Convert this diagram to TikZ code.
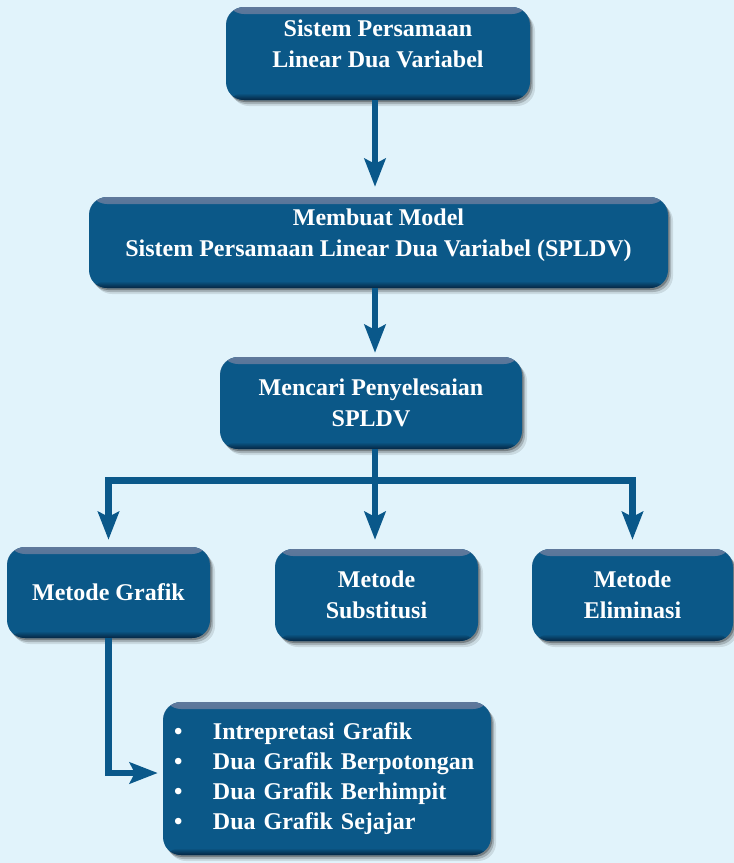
\documentclass[tikz,border=0pt]{standalone}
\usepackage{fontspec}
\setmainfont{Liberation Serif}
\usetikzlibrary{arrows.meta,shadows}
\definecolor{bg}{RGB}{225,243,251}
\definecolor{boxblue}{RGB}{11,88,136}
\definecolor{lineblue}{RGB}{10,88,138}
\definecolor{boxtop}{RGB}{95,120,155}
\definecolor{boxbot}{RGB}{5,38,66}
\tikzset{
  flowbox/.style={rounded corners=18pt, fill=boxblue, text=white,
    font=\bfseries\fontsize{24}{31}\selectfont, align=center, inner sep=0pt,
    general shadow={fill=black, opacity=0.10, shadow xshift=5pt, shadow yshift=-6pt},
    general shadow={fill=black, opacity=0.18, shadow xshift=3pt, shadow yshift=-4pt},
    general shadow={fill=black, opacity=0.28, shadow xshift=1.5pt, shadow yshift=-2pt},
    path picture={
      \shade[top color=boxtop, bottom color=boxblue]
        (path picture bounding box.north west) rectangle ([yshift=-7pt]path picture bounding box.north east);
      \shade[top color=boxblue, bottom color=boxbot]
        ([yshift=7pt]path picture bounding box.south west) rectangle (path picture bounding box.south east);
    }},
  conn/.style={draw=lineblue, line width=6.5pt},
  arr/.style={conn, -{Stealth[length=28pt, width=21pt, inset=5pt]}},
}
\begin{document}
\begin{tikzpicture}[x=1pt, y=-1pt]
  \fill[bg] (0,0) rectangle (734,863);
  \useasboundingbox (0,0) rectangle (734,863);

  \node[flowbox, minimum width=304pt, minimum height=93pt] (b1) at (378,53.5)
    {Sistem Persamaan\\Linear Dua Variabel\rule[-20pt]{0pt}{20pt}};
  \node[flowbox, minimum width=579pt, minimum height=91pt] (b2) at (378.5,242.5)
    {Membuat Model\\Sistem Persamaan Linear Dua Variabel (SPLDV)\rule[-20pt]{0pt}{20pt}};
  \node[flowbox, minimum width=302pt, minimum height=92pt] (b3) at (371,403)
    {Mencari Penyelesaian\\SPLDV};
  \node[flowbox, minimum width=203pt, minimum height=91pt] (grafik) at (108.5,592.5)
    {Metode Grafik};
  \node[flowbox, minimum width=203pt, minimum height=92pt] (sub) at (376.5,595)
    {Metode\\Substitusi};
  \node[flowbox, minimum width=201pt, minimum height=92pt] (elim) at (632.5,595)
    {Metode\\Eliminasi};
  \node[flowbox, minimum width=328pt, minimum height=153pt, text width=306pt, align=left,
        font=\bfseries\fontsize{24}{30}\selectfont] (bullets) at (327,778.5)
    {\makebox[39pt][l]{\textbullet}Intrepretasi Grafik\\
     \makebox[39pt][l]{\textbullet}Dua Grafik Berpotongan\\
     \makebox[39pt][l]{\textbullet}Dua Grafik Berhimpit\\
     \makebox[39pt][l]{\textbullet}Dua Grafik Sejajar};

  \coordinate (spine) at (375,0);
  \coordinate (bar) at (375,480.5);

  \draw[arr, shorten >=10pt] (b1.south -| spine) -- (b2.north -| spine);
  \draw[arr, shorten >=4pt] (b2.south -| spine) -- (b3.north -| spine);
  \draw[arr, shorten >=9pt] (b3.south -| spine) -- (sub.north -| spine);
  \draw[arr, shorten >=7pt] (bar) -| (grafik.north);
  \draw[arr, shorten >=9pt] (bar) -| (elim.north);
  \draw[arr, shorten >=5pt] (grafik.south) |- ([yshift=5.5pt]bullets.west);
\end{tikzpicture}
\end{document}
